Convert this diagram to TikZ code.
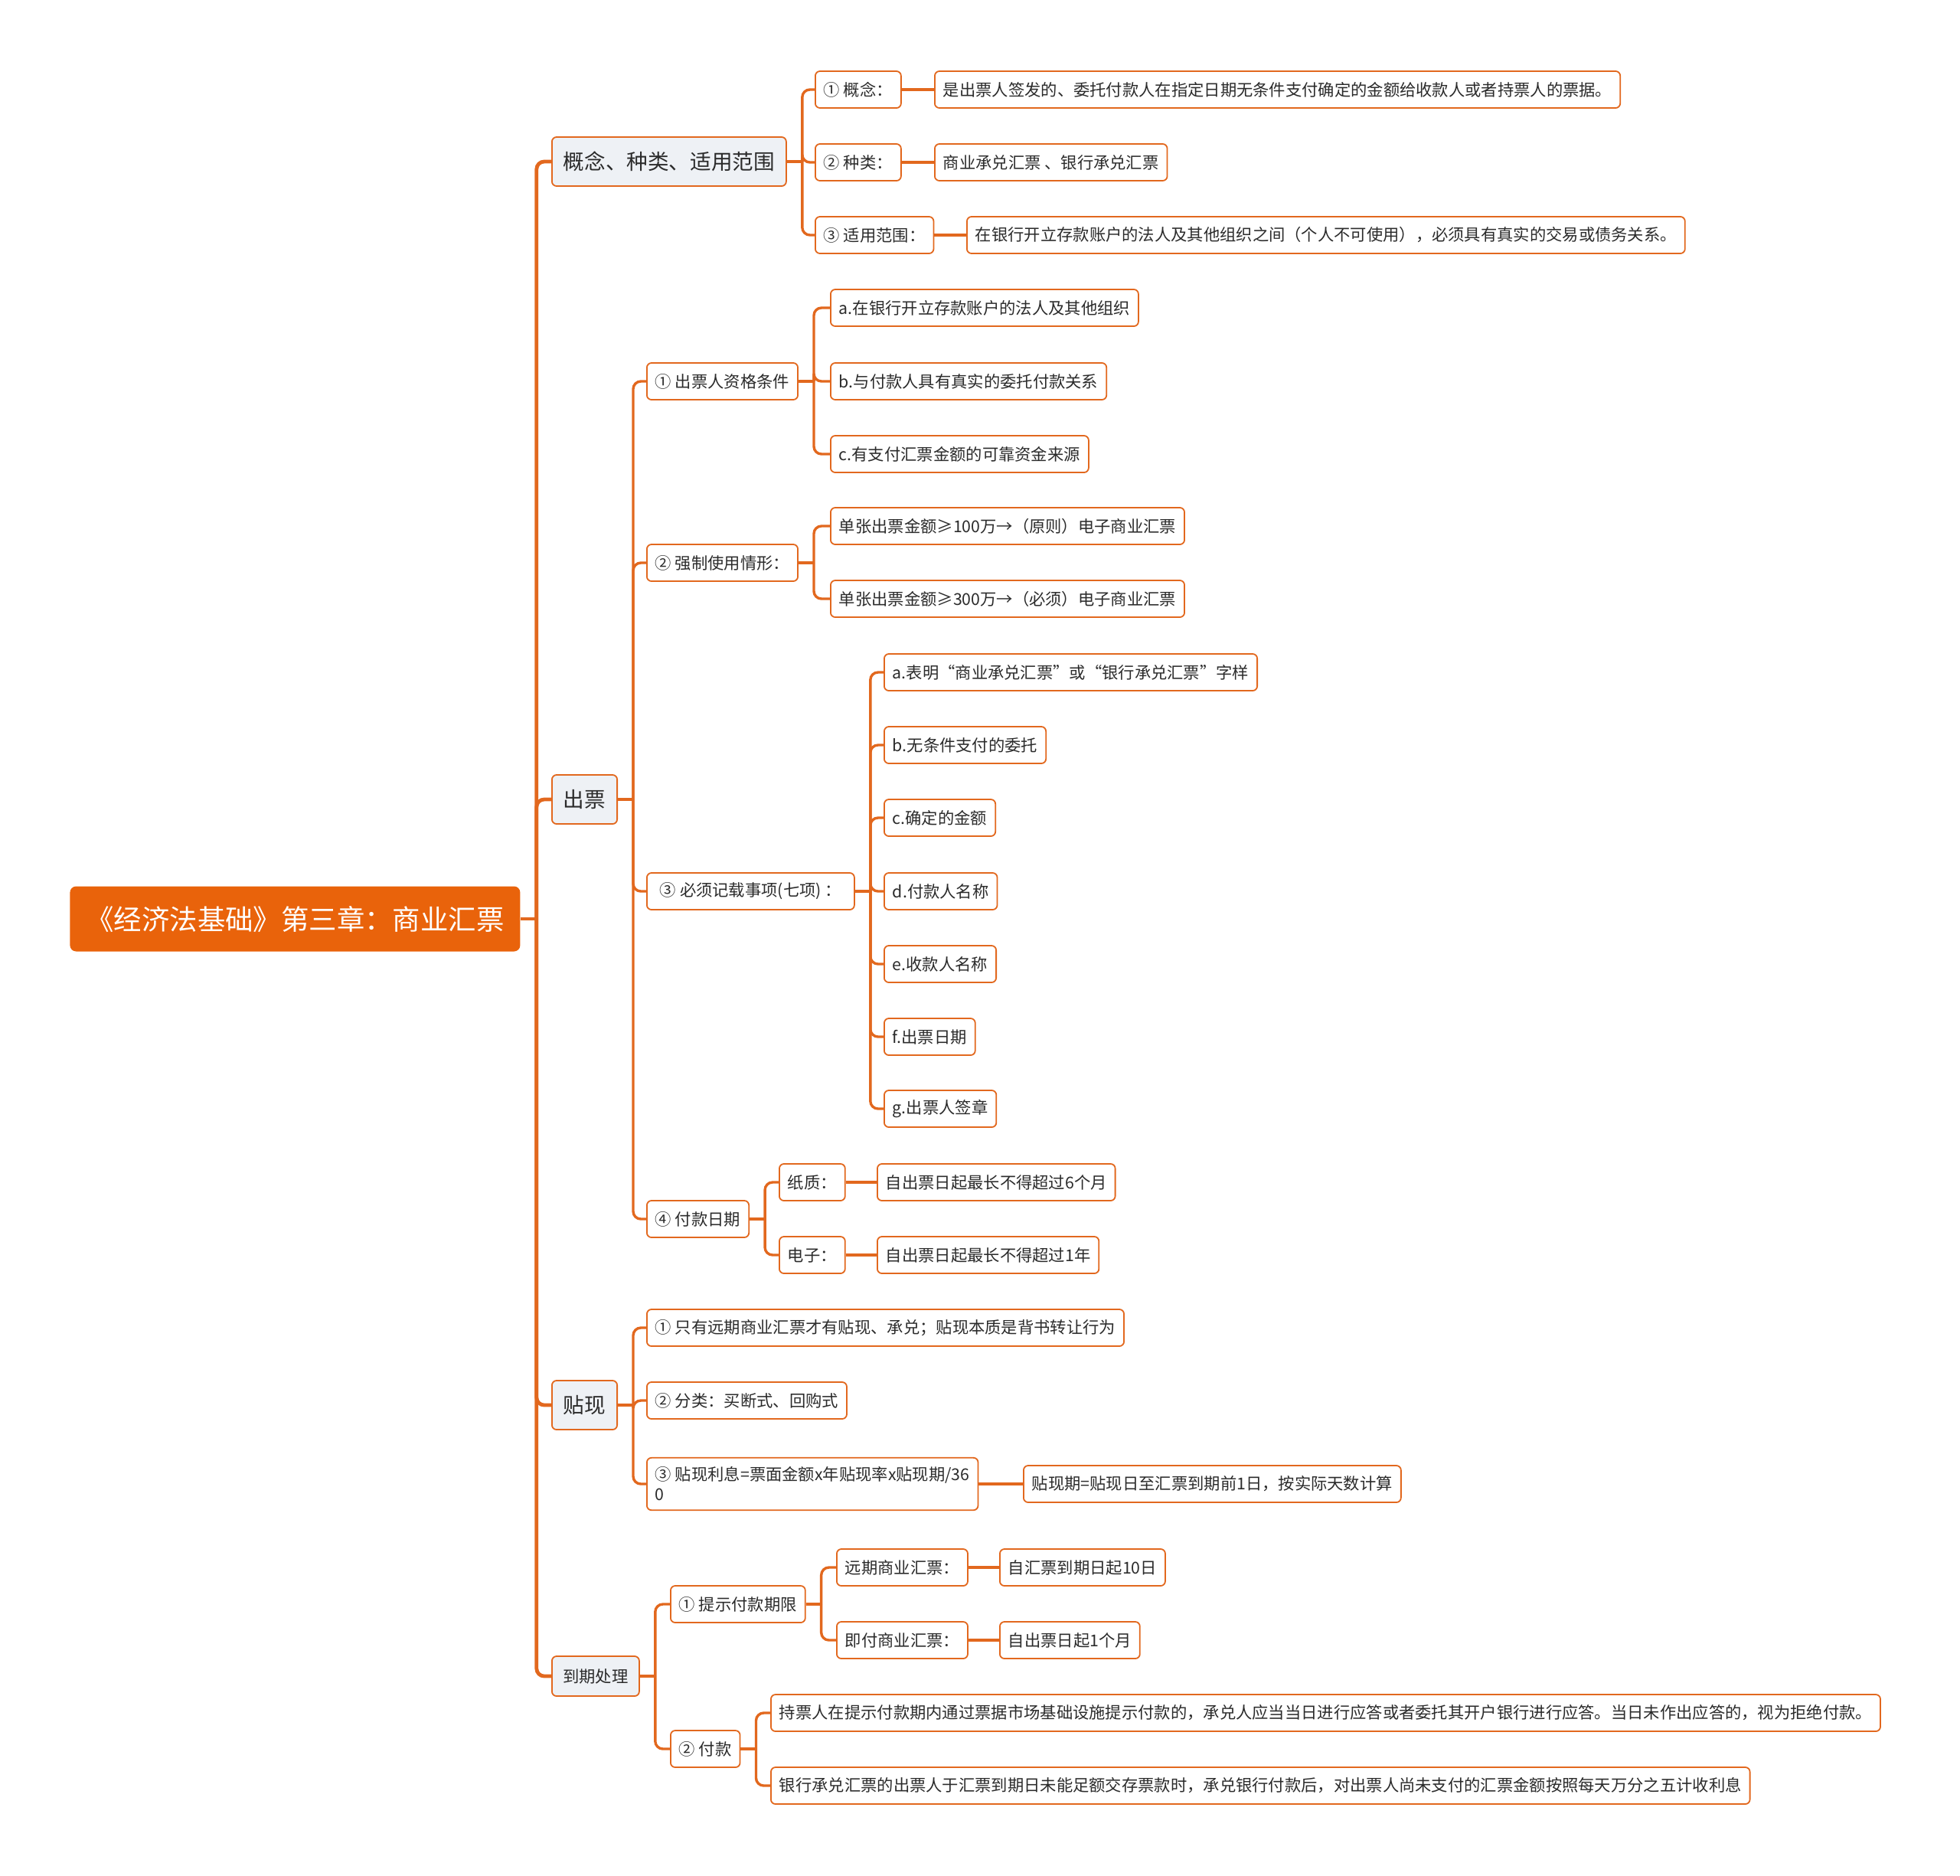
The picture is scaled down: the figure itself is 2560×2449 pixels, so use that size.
\documentclass[tikz,border=0pt]{standalone}
\usepackage{fontspec}
\setmainfont{Noto Sans CJK SC}
\usepackage{tikz}
\definecolor{lineorange}{HTML}{E2681E}
\definecolor{rootorange}{HTML}{E9630B}
\definecolor{topicgrey}{HTML}{EEF1F5}
\definecolor{textdark}{HTML}{2B2B2B}

\begin{document}
\begin{tikzpicture}[x=0.5pt,y=-0.5pt,
    every node/.style={anchor=west,text=textdark},
    root/.style={fill=rootorange,rounded corners=4pt,text=white,font=\fontsize{18.2pt}{22pt}\selectfont,minimum height=42.5pt,inner xsep=10.5pt},
    topic/.style={draw=lineorange,line width=0.9pt,fill=topicgrey,rounded corners=3pt,font=\fontsize{13.8pt}{16pt}\selectfont,minimum height=32pt,inner xsep=7.5pt},
    item/.style={draw=lineorange,line width=0.9pt,fill=white,rounded corners=3pt,font=\fontsize{10.65pt}{13pt}\selectfont,minimum height=24pt,inner xsep=5.5pt},
    trunk/.style={draw=lineorange,line width=2.4pt,rounded corners=5pt},
    link/.style={draw=lineorange,line width=1.7pt,rounded corners=5pt}]
    \useasboundingbox (0,0) rectangle (2560,2449);

    % root
    \node[root] (root) at (91,1200) {《经济法基础》第三章：商业汇票};

    % main topics
    \node[topic] (gn) at (720,211) {概念、种类、适用范围};
    \node[topic] (cp) at (720,1044) {出票};
    \node[topic] (tx) at (720,1835) {贴现};
    \node[item,fill=topicgrey,minimum height=26pt,minimum width=57pt] (dq) at (720,2189) {到期处理};

    % 概念、种类、适用范围
    \node[item] (gn1) at (1064,117) {① 概念：};
    \node[item] (gn2) at (1064,212) {② 种类：};
    \node[item] (gn3) at (1064,307) {③ 适用范围：};
    \node[item] (gn1a) at (1220,117) {是出票人签发的、委托付款人在指定日期无条件支付确定的金额给收款人或者持票人的票据。};
    \node[item] (gn2a) at (1220,212) {商业承兑汇票 、银行承兑汇票};
    \node[item] (gn3a) at (1262,307) {在银行开立存款账户的法人及其他组织之间（个人不可使用），必须具有真实的交易或债务关系。};

    % 出票
    \node[item] (cp1) at (844,498) {① 出票人资格条件};
    \node[item] (cp2) at (844,735) {② 强制使用情形：};
    \node[item,minimum width=135.5pt] (cp3) at (844,1164) {③ 必须记载事项(七项) ：};
    \node[item] (cp4) at (844,1592) {④ 付款日期};
    \node[item] (cp1a) at (1084,402) {a.在银行开立存款账户的法人及其他组织};
    \node[item] (cp1b) at (1084,498) {b.与付款人具有真实的委托付款关系};
    \node[item] (cp1c) at (1084,593) {c.有支付汇票金额的可靠资金来源};
    \node[item] (cp2a) at (1084,687) {单张出票金额≥100万→（原则）电子商业汇票};
    \node[item] (cp2b) at (1084,782) {单张出票金额≥300万→（必须）电子商业汇票};
    \node[item] (cp3a) at (1154,878) {a.表明“商业承兑汇票”或“银行承兑汇票”字样};
    \node[item] (cp3b) at (1154,973) {b.无条件支付的委托};
    \node[item] (cp3c) at (1154,1068) {c.确定的金额};
    \node[item] (cp3d) at (1154,1164) {d.付款人名称};
    \node[item] (cp3e) at (1154,1259) {e.收款人名称};
    \node[item] (cp3f) at (1154,1354) {f.出票日期};
    \node[item] (cp3g) at (1154,1448) {g.出票人签章};
    \node[item] (cp4a) at (1017,1544) {纸质：};
    \node[item] (cp4b) at (1017,1639) {电子：};
    \node[item] (cp4a1) at (1145,1544) {自出票日起最长不得超过6个月};
    \node[item] (cp4b1) at (1145,1639) {自出票日起最长不得超过1年};

    % 贴现
    \node[item] (tx1) at (844,1734) {① 只有远期商业汇票才有贴现、承兑；贴现本质是背书转让行为};
    \node[item] (tx2) at (844,1829) {② 分类：买断式、回购式};
    \node[item,align=left,inner ysep=6pt] (tx3) at (844,1938) {③ 贴现利息=票面金额x年贴现率x贴现期/36\\0};
    \node[item] (tx3a) at (1336,1938) {贴现期=贴现日至汇票到期前1日，按实际天数计算};

    % 到期处理
    \node[item] (dq1) at (875,2095) {① 提示付款期限};
    \node[item] (dq2) at (875,2284) {② 付款};
    \node[item] (dq1a) at (1092,2047) {远期商业汇票：};
    \node[item] (dq1b) at (1092,2142) {即付商业汇票：};
    \node[item] (dq1a1) at (1305,2047) {自汇票到期日起10日};
    \node[item] (dq1b1) at (1305,2142) {自出票日起1个月};
    \node[item] (dq2a) at (1006,2237) {持票人在提示付款期内通过票据市场基础设施提示付款的，承兑人应当当日进行应答或者委托其开户银行进行应答。当日未作出应答的，视为拒绝付款。};
    \node[item] (dq2b) at (1006,2332) {银行承兑汇票的出票人于汇票到期日未能足额交存票款时，承兑银行付款后，对出票人尚未支付的汇票金额按照每天万分之五计收利息};

    % trunk
    \coordinate (rootj) at ([xshift=10.5pt]root.east);
    \draw[trunk] (root) -- (rootj);
    \foreach \n in {gn,cp,tx,dq} \draw[trunk] (rootj) |- (\n.west);

    % branches with several children
    \foreach \p/\kids in {gn/{gn1,gn2,gn3}, cp/{cp1,cp2,cp3,cp4}, cp1/{cp1a,cp1b,cp1c},
        cp2/{cp2a,cp2b}, cp3/{cp3a,cp3b,cp3c,cp3d,cp3e,cp3f,cp3g}, cp4/{cp4a,cp4b},
        tx/{tx1,tx2,tx3}, dq/{dq1,dq2}, dq1/{dq1a,dq1b}, dq2/{dq2a,dq2b}} {
        \coordinate (\p j) at ([xshift=10pt]\p.east);
        \draw[link] (\p) -- (\p j);
        \foreach \k in \kids \draw[link] (\p j) |- (\k.west);
    }

    % single children
    \foreach \a/\b in {gn1/gn1a, gn2/gn2a, gn3/gn3a, cp4a/cp4a1, cp4b/cp4b1,
        tx3/tx3a, dq1a/dq1a1, dq1b/dq1b1}
        \draw[link] (\a) -- (\b);
\end{tikzpicture}
\end{document}
